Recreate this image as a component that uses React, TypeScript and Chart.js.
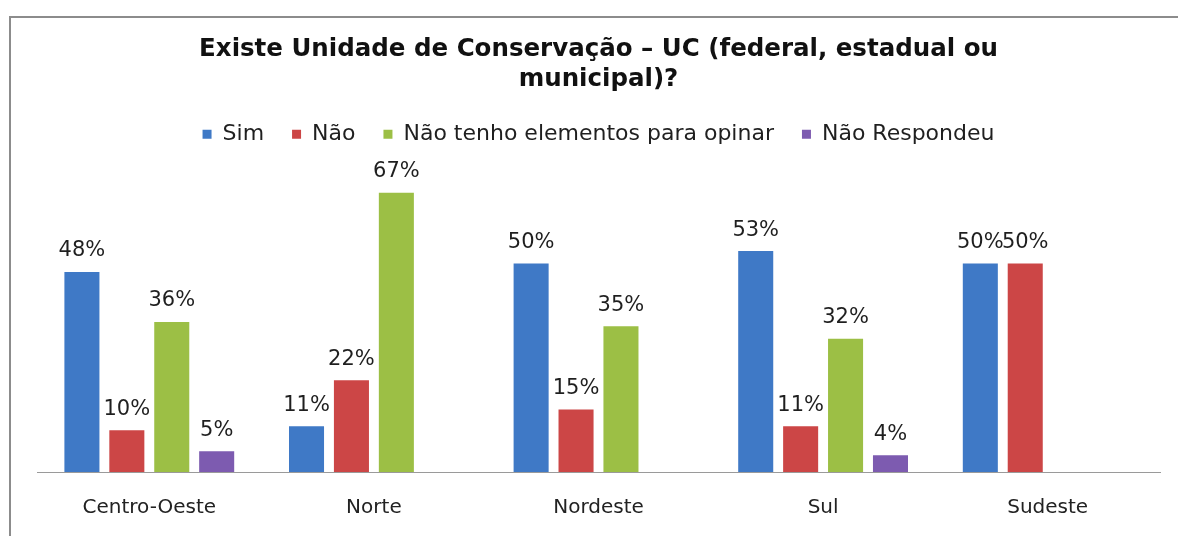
import React, { useEffect, useRef } from "react";
import { Chart, registerables } from "chart.js";

Chart.register(...registerables);

const categories = ["Centro-Oeste", "Norte", "Nordeste", "Sul", "Sudeste"];
const seriesNames = ["Sim", "Não", "Não tenho elementos para opinar", "Não Respondeu"];
const sim = [48, 11, 50, 53, 50];
const nao = [10, 22, 15, 11, 50];
const semElementos = [36, 67, 35, 32, 0];
const naoRespondeu = [5, 0, 0, 4, 0];
const seriesColors = ["#3f79c6", "#cc4646", "#9cbf45", "#7d5bb0"];
const titleLines = [
  "Existe Unidade de Conservação – UC (federal, estadual ou",
  "municipal)?",
];

const FONT = "'DejaVu Sans', 'Liberation Sans', Arial, sans-serif";

const valueLabels = {
  id: "valueLabels",
  afterDatasetsDraw(chart: any) {
    const ctx = chart.ctx;
    ctx.save();
    ctx.font = `21px ${FONT}`;
    ctx.fillStyle = "#1f1f1f";
    ctx.textAlign = "center";
    ctx.textBaseline = "middle";
    chart.data.datasets.forEach((ds: any, i: number) => {
      const meta = chart.getDatasetMeta(i);
      meta.data.forEach((el: any, j: number) => {
        const v = ds.data[j];
        if (!v) return;
        ctx.fillText(`${v}%`, el.x, el.y - 21);
      });
    });
    ctx.restore();
  },
};

export default function App() {
  const canvasRef = useRef<HTMLCanvasElement | null>(null);

  useEffect(() => {
    if (!canvasRef.current) return;
    const values = [sim, nao, semElementos, naoRespondeu];
    const chart = new Chart(canvasRef.current, {
      type: "bar",
      data: {
        labels: categories,
        datasets: seriesNames.map((name, i) => ({
          label: name,
          data: values[i],
          backgroundColor: seriesColors[i],
          borderWidth: 0,
          categoryPercentage: 0.8,
          barPercentage: 0.78,
        })),
      },
      options: {
        responsive: false,
        animation: false,
        devicePixelRatio: 1,
        layout: { padding: { top: 34, left: 37, right: 18, bottom: -8 } },
        plugins: {
          title: {
            display: true,
            text: titleLines,
            color: "#111111",
            font: { family: FONT, size: 24.5, weight: "bold", lineHeight: 1.25 },
            padding: { top: 0, bottom: 0 },
          },
          legend: {
            display: true,
            position: "top",
            labels: {
              boxWidth: 9,
              boxHeight: 9,
              padding: 28,
              color: "#1f1f1f",
              font: { family: FONT, size: 22 },
            },
          },
          tooltip: { enabled: false },
        },
        scales: {
          x: {
            grid: { display: false, drawTicks: false },
            border: { display: true, color: "#9a9a9a", width: 1 },
            ticks: {
              color: "#222222",
              padding: 24,
              font: { family: FONT, size: 20 },
              maxRotation: 0,
            },
          },
          y: {
            display: false,
            min: 0,
            max: 76,
          },
        },
      },
      plugins: [valueLabels],
    });
    return () => chart.destroy();
  }, []);

  return (
    <div
      style={{
        position: "fixed",
        left: 0,
        top: 0,
        width: 1178,
        height: 536,
        overflow: "hidden",
        background: "#ffffff",
      }}
    >
      <div
        style={{
          position: "absolute",
          left: 9,
          top: 16,
          width: 1300,
          height: 700,
          border: "2px solid #8c8c8c",
          boxSizing: "border-box",
        }}
      />
      <canvas
        ref={canvasRef}
        width={1178}
        height={536}
        style={{ position: "absolute", left: 0, top: 0, width: 1178, height: 536 }}
      />
    </div>
  );
}
